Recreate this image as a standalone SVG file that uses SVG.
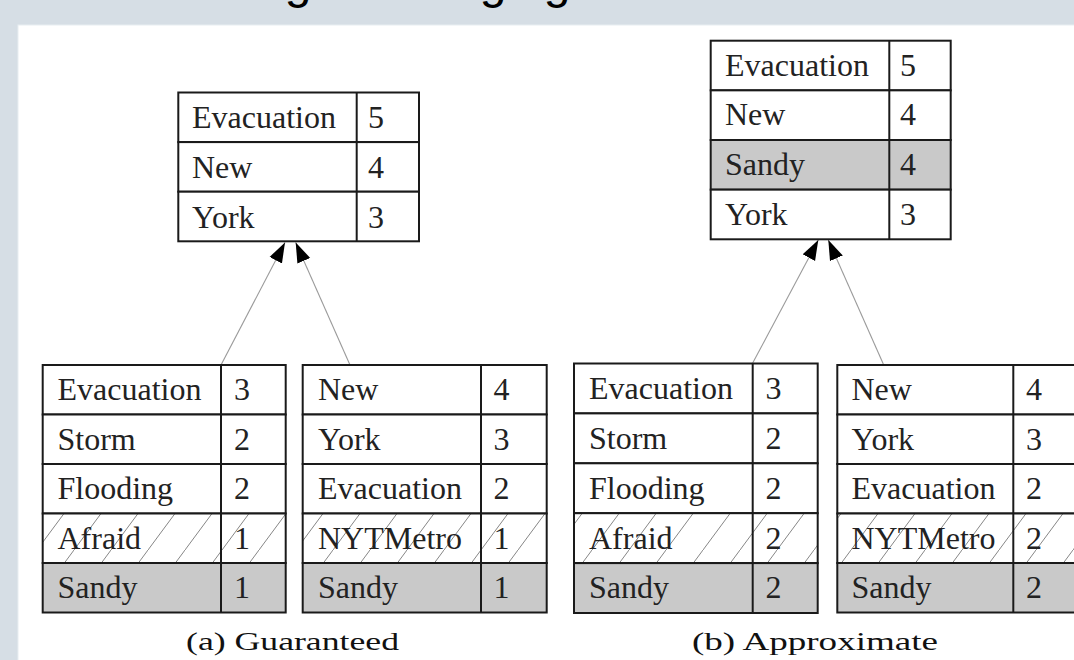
<svg xmlns="http://www.w3.org/2000/svg" width="1074" height="660" viewBox="0 0 1074 660">
<style>
.t{font-family:"Liberation Serif","Times New Roman",serif;font-size:32px;fill:#222}
.cap{font-family:"Liberation Serif","Times New Roman",serif;font-size:25px;fill:#111}
.ttl{font-family:"Liberation Sans",Arial,sans-serif;font-size:48px;fill:#000}
.cell{fill:#fff;stroke:#1a1a1a;stroke-width:2}
.gray{fill:#c9c9c9;stroke:#1a1a1a;stroke-width:2}
.hatch{fill:url(#hp);stroke:#1a1a1a;stroke-width:2}
.div{stroke:#1a1a1a;stroke-width:2}
.conn{stroke:#9a9a9a;stroke-width:1.1;fill:none;marker-end:url(#arr)}
</style>
<defs>
<pattern id="hp" patternUnits="userSpaceOnUse" width="37" height="50">
<rect width="37" height="50" fill="#fff"/>
<line x1="0" y1="50" x2="37" y2="0" stroke="#777" stroke-width="0.9"/>
</pattern>
<marker id="arr" markerUnits="userSpaceOnUse" markerWidth="22" markerHeight="16" refX="20" refY="7" orient="auto" viewBox="0 0 22 14">
<path d="M0,0 L20,7 L0,14 z" fill="#000"/>
</marker>
</defs>
<rect x="0" y="0" width="1074" height="660" fill="#d6dee5"/>
<rect x="18" y="25" width="1060" height="640" fill="#fff" stroke="#e8eef2" stroke-width="1"/>
<text class="ttl" x="284.7" y="-2">g</text>
<text class="ttl" x="479.7" y="-2">ging</text>

<g id="conns">
<line class="conn" x1="221" y1="365" x2="285" y2="242.5"/>
<line class="conn" x1="350" y1="365" x2="295.7" y2="242.5"/>
<line class="conn" x1="752.7" y1="363" x2="818.3" y2="240"/>
<line class="conn" x1="883.3" y1="364" x2="828.3" y2="240"/>
</g>

<g id="topA">
<rect class="cell" x="178.3" y="92.5" width="240.7" height="49.6"/>
<rect class="cell" x="178.3" y="142.1" width="240.7" height="49.6"/>
<rect class="cell" x="178.3" y="191.7" width="240.7" height="49.6"/>
<line class="div" x1="356.7" y1="92.5" x2="356.7" y2="241.3"/>
<text class="t" x="192" y="128">Evacuation</text><text class="t" x="368" y="128">5</text>
<text class="t" x="192" y="177.5">New</text><text class="t" x="368" y="177.5">4</text>
<text class="t" x="192" y="227.5">York</text><text class="t" x="368" y="227.5">3</text>
</g>

<g id="botA1">
<rect class="cell" x="42.7" y="365" width="243" height="49.5"/>
<rect class="cell" x="42.7" y="414.5" width="243" height="49.5"/>
<rect class="cell" x="42.7" y="464" width="243" height="49.5"/>
<rect class="hatch" x="42.7" y="513.5" width="243" height="49.5"/>
<rect class="gray" x="42.7" y="563" width="243" height="49.5"/>
<line class="div" x1="221" y1="365" x2="221" y2="612.5"/>
<text class="t" x="57.5" y="400">Evacuation</text><text class="t" x="234" y="400">3</text>
<text class="t" x="57.5" y="449.5">Storm</text><text class="t" x="234" y="449.5">2</text>
<text class="t" x="57.5" y="499">Flooding</text><text class="t" x="234" y="499">2</text>
<text class="t" x="57.5" y="548.5">Afraid</text><text class="t" x="234" y="548.5">1</text>
<text class="t" x="57.5" y="598">Sandy</text><text class="t" x="234" y="598">1</text>
</g>

<g id="botA2">
<rect class="cell" x="302.7" y="365" width="244" height="49.5"/>
<rect class="cell" x="302.7" y="414.5" width="244" height="49.5"/>
<rect class="cell" x="302.7" y="464" width="244" height="49.5"/>
<rect class="hatch" x="302.7" y="513.5" width="244" height="49.5"/>
<rect class="gray" x="302.7" y="563" width="244" height="49.5"/>
<line class="div" x1="481" y1="365" x2="481" y2="612.5"/>
<text class="t" x="318" y="400">New</text><text class="t" x="493.5" y="400">4</text>
<text class="t" x="318" y="449.5">York</text><text class="t" x="493.5" y="449.5">3</text>
<text class="t" x="318" y="499">Evacuation</text><text class="t" x="493.5" y="499">2</text>
<text class="t" x="318" y="548.5">NYTMetro</text><text class="t" x="493.5" y="548.5">1</text>
<text class="t" x="318" y="598">Sandy</text><text class="t" x="493.5" y="598">1</text>
</g>

<g id="topB">
<rect class="cell" x="710.7" y="40.7" width="240" height="49.65"/>
<rect class="cell" x="710.7" y="90.35" width="240" height="49.65"/>
<rect class="gray" x="710.7" y="140" width="240" height="49.65"/>
<rect class="cell" x="710.7" y="189.65" width="240" height="49.65"/>
<line class="div" x1="889.3" y1="40.7" x2="889.3" y2="239.3"/>
<text class="t" x="725" y="75.5">Evacuation</text><text class="t" x="900" y="75.5">5</text>
<text class="t" x="725" y="125">New</text><text class="t" x="900" y="125">4</text>
<text class="t" x="725" y="175">Sandy</text><text class="t" x="900" y="175">4</text>
<text class="t" x="725" y="224.5">York</text><text class="t" x="900" y="224.5">3</text>
</g>

<g id="botB1">
<rect class="cell" x="574" y="363.5" width="243.7" height="49.9"/>
<rect class="cell" x="574" y="413.4" width="243.7" height="49.9"/>
<rect class="cell" x="574" y="463.3" width="243.7" height="49.9"/>
<rect class="hatch" x="574" y="513.2" width="243.7" height="49.9"/>
<rect class="gray" x="574" y="563.1" width="243.7" height="49.9"/>
<line class="div" x1="752.7" y1="363.5" x2="752.7" y2="613"/>
<text class="t" x="589" y="399">Evacuation</text><text class="t" x="765.5" y="399">3</text>
<text class="t" x="589" y="448.5">Storm</text><text class="t" x="765.5" y="448.5">2</text>
<text class="t" x="589" y="498.5">Flooding</text><text class="t" x="765.5" y="498.5">2</text>
<text class="t" x="589" y="548.5">Afraid</text><text class="t" x="765.5" y="548.5">2</text>
<text class="t" x="589" y="598">Sandy</text><text class="t" x="765.5" y="598">2</text>
</g>

<g id="botB2">
<rect class="cell" x="837.3" y="365" width="244" height="49.5"/>
<rect class="cell" x="837.3" y="414.5" width="244" height="49.5"/>
<rect class="cell" x="837.3" y="464" width="244" height="49.5"/>
<rect class="hatch" x="837.3" y="513.5" width="244" height="49.5"/>
<rect class="gray" x="837.3" y="563" width="244" height="49.5"/>
<line class="div" x1="1013.3" y1="365" x2="1013.3" y2="612.5"/>
<text class="t" x="851.5" y="400">New</text><text class="t" x="1026" y="400">4</text>
<text class="t" x="851.5" y="449.5">York</text><text class="t" x="1026" y="449.5">3</text>
<text class="t" x="851.5" y="499">Evacuation</text><text class="t" x="1026" y="499">2</text>
<text class="t" x="851.5" y="548.5">NYTMetro</text><text class="t" x="1026" y="548.5">2</text>
<text class="t" x="851.5" y="598">Sandy</text><text class="t" x="1026" y="598">2</text>
</g>

<text class="cap" x="186" y="650" textLength="213" lengthAdjust="spacingAndGlyphs">(a) Guaranteed</text>
<text class="cap" x="692" y="650" textLength="246" lengthAdjust="spacingAndGlyphs">(b) Approximate</text>
</svg>
